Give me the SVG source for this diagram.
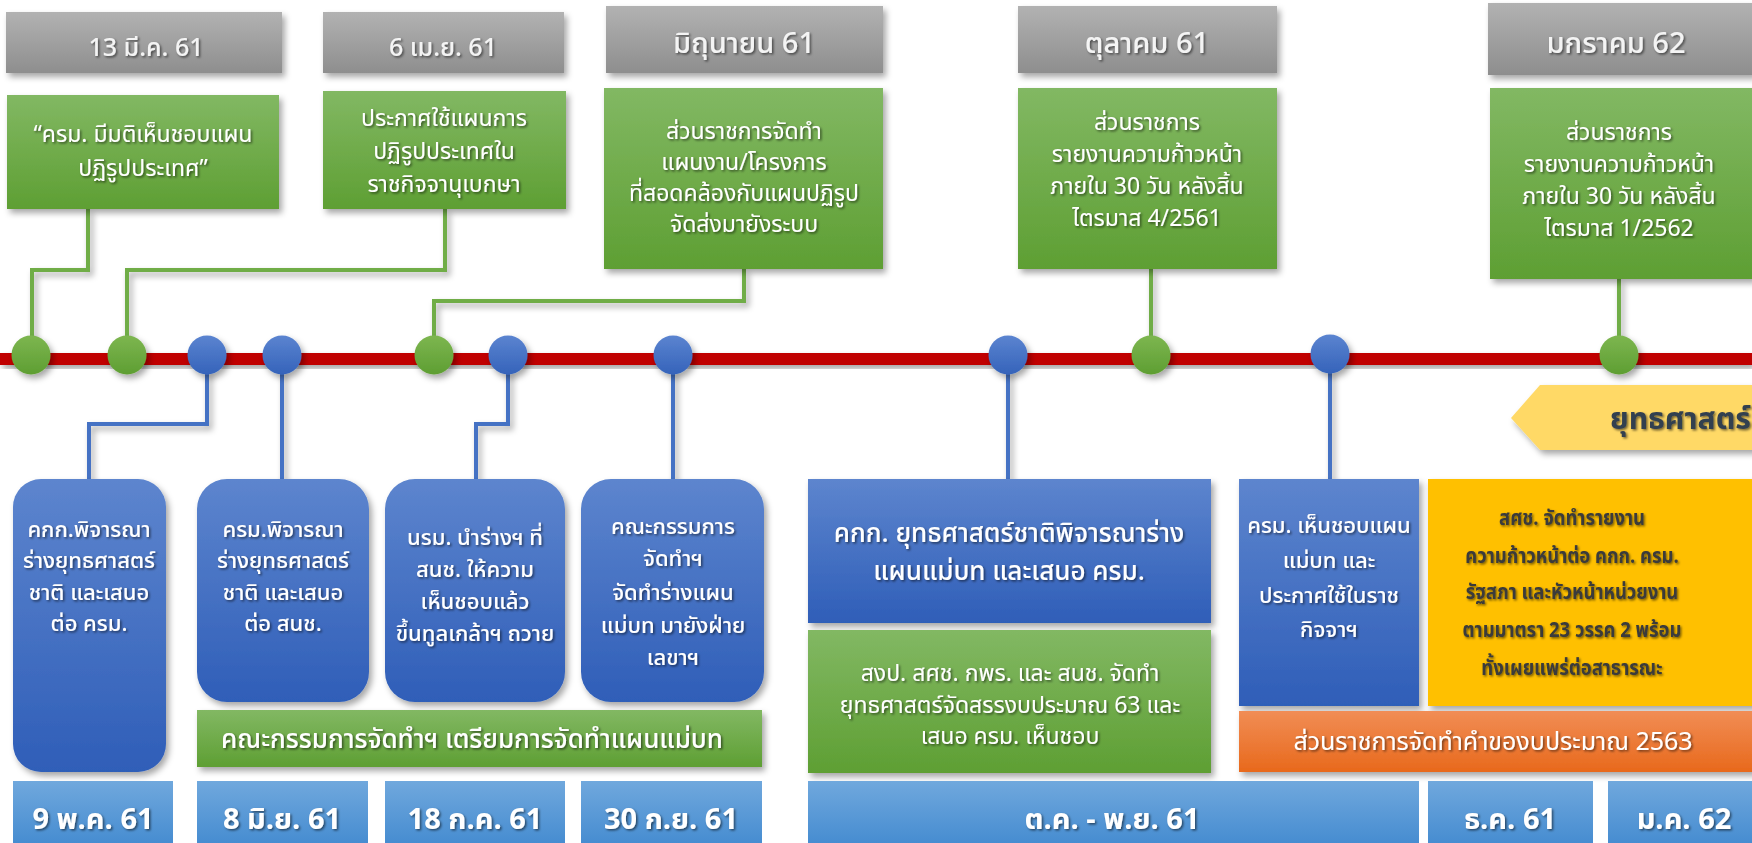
<svg xmlns="http://www.w3.org/2000/svg" width="1752" height="843" viewBox="0 0 1752 843">
<defs>
<linearGradient id="gGray" x1="0" y1="0" x2="0" y2="1"><stop offset="0" stop-color="#B2B2B2"/><stop offset="1" stop-color="#8E8E8E"/></linearGradient>
<linearGradient id="gGreen" x1="0" y1="0" x2="0" y2="1"><stop offset="0" stop-color="#82B863"/><stop offset="1" stop-color="#5E9F33"/></linearGradient>
<linearGradient id="gBlue" x1="0" y1="0" x2="0" y2="1"><stop offset="0" stop-color="#5D85CE"/><stop offset="1" stop-color="#2F5EB8"/></linearGradient>
<linearGradient id="gLBlue" x1="0" y1="0" x2="0" y2="1"><stop offset="0" stop-color="#70A8DD"/><stop offset="1" stop-color="#4189CF"/></linearGradient>
<linearGradient id="gOrange" x1="0" y1="0" x2="0" y2="1"><stop offset="0" stop-color="#F18D55"/><stop offset="1" stop-color="#E8691C"/></linearGradient>
<linearGradient id="gDotG" x1="0" y1="0" x2="0" y2="1"><stop offset="0" stop-color="#7DB650"/><stop offset="1" stop-color="#5E9E32"/></linearGradient>
<linearGradient id="gDotB" x1="0" y1="0" x2="0" y2="1"><stop offset="0" stop-color="#5B84D0"/><stop offset="1" stop-color="#3563BA"/></linearGradient>
<filter id="sh" x="-10%" y="-10%" width="130%" height="140%"><feDropShadow dx="3" dy="4" stdDeviation="3" flood-color="#000" flood-opacity="0.35"/></filter>
<filter id="ts" x="-5%" y="-20%" width="110%" height="150%"><feDropShadow dx="1.5" dy="1.5" stdDeviation="1" flood-color="#000" flood-opacity="0.55"/></filter>
<style>
text{font-family:'Noto Sans Thai','Noto Sans Thai UI','Noto Sans','DejaVu Sans',sans-serif;text-anchor:middle;fill:#FFFFFF;filter:url(#ts)}
.hd{font-size:25px;fill:#F4F4F4;font-weight:500}
.hl{font-size:29px;fill:#F4F4F4;font-weight:500}
.gt{font-size:23px}
.gb{font-size:23px}
.bt{font-size:22px;font-weight:500}
.big{font-size:26px;font-weight:500}
.dt{font-size:29px;font-weight:bold}
.yt{font-size:22px;fill:#3A3A3A;font-weight:bold}
.ot{font-size:25px}
.ar{font-size:30px;fill:#333F50;text-anchor:start;font-weight:bold}
.gl{stroke:#70AD47;stroke-width:4;fill:none}
.bl{stroke:#4472C4;stroke-width:4;fill:none}
</style>
</defs>

<g id="connectors" filter="url(#sh)">
<polyline class="gl" points="88,209 88,270 32,270 32,340"/>
<polyline class="gl" points="445,209 445,270 127,270 127,340"/>
<polyline class="gl" points="744,269 744,301 434,301 434,340"/>
<polyline class="gl" points="1151,269 1151,340"/>
<polyline class="gl" points="1619,279 1619,340"/>
<polyline class="bl" points="207,370 207,424 89,424 89,480"/>
<polyline class="bl" points="282,370 282,480"/>
<polyline class="bl" points="508,370 508,424 476,424 476,480"/>
<polyline class="bl" points="673,370 673,480"/>
<polyline class="bl" points="1008,370 1008,480"/>
<polyline class="bl" points="1330,370 1330,480"/>
</g>

<g id="timeline">
<rect x="0" y="353" width="1752" height="12" fill="#C00000" filter="url(#sh)"/>
</g>

<g id="dots" filter="url(#sh)">
<circle cx="31" cy="355" r="19.5" fill="url(#gDotG)"/>
<circle cx="127" cy="355" r="19.5" fill="url(#gDotG)"/>
<circle cx="207" cy="355" r="19.5" fill="url(#gDotB)"/>
<circle cx="282" cy="355" r="19.5" fill="url(#gDotB)"/>
<circle cx="434" cy="355" r="19.5" fill="url(#gDotG)"/>
<circle cx="508" cy="355" r="19.5" fill="url(#gDotB)"/>
<circle cx="673" cy="355" r="19.5" fill="url(#gDotB)"/>
<circle cx="1008" cy="355" r="19.5" fill="url(#gDotB)"/>
<circle cx="1151" cy="355" r="19.5" fill="url(#gDotG)"/>
<circle cx="1330" cy="354" r="19.5" fill="url(#gDotB)"/>
<circle cx="1619" cy="355" r="19.5" fill="url(#gDotG)"/>
</g>

<g id="h1"><rect x="6" y="12" width="276" height="61" fill="url(#gGray)" filter="url(#sh)"/><text class="hd" x="146" y="56">13 มี.ค. 61</text></g>
<g id="h2"><rect x="323" y="12" width="241" height="61" fill="url(#gGray)" filter="url(#sh)"/><text class="hd" x="443" y="56">6 เม.ย. 61</text></g>
<g id="h3"><rect x="606" y="6" width="277" height="67" fill="url(#gGray)" filter="url(#sh)"/><text class="hl" x="744" y="53">มิถุนายน 61</text></g>
<g id="h4"><rect x="1018" y="6" width="259" height="67" fill="url(#gGray)" filter="url(#sh)"/><text class="hl" x="1147" y="53">ตุลาคม 61</text></g>
<g id="h5"><rect x="1488" y="3" width="266" height="72" fill="url(#gGray)" filter="url(#sh)"/><text class="hl" x="1616" y="53">มกราคม 62</text></g>

<g id="g1"><rect x="7" y="95" width="272" height="114" fill="url(#gGreen)" filter="url(#sh)"/>
<text class="gt" x="143" y="142">“ครม. มีมติเห็นชอบแผน</text><text class="gt" x="143" y="176">ปฏิรูปประเทศ”</text></g>
<g id="g2"><rect x="323" y="91" width="243" height="118" fill="url(#gGreen)" filter="url(#sh)"/>
<text class="gt" x="444" y="126">ประกาศใช้แผนการ</text><text class="gt" x="444" y="159">ปฏิรูปประเทศใน</text><text class="gt" x="444" y="192">ราชกิจจานุเบกษา</text></g>
<g id="g3"><rect x="604" y="88" width="279" height="181" fill="url(#gGreen)" filter="url(#sh)"/>
<text class="gt" x="744" y="139">ส่วนราชการจัดทำ</text><text class="gt" x="744" y="170">แผนงาน/โครงการ</text><text class="gt" x="744" y="201">ที่สอดคล้องกับแผนปฏิรูป</text><text class="gt" x="744" y="232">จัดส่งมายังระบบ</text></g>
<g id="g4"><rect x="1018" y="88" width="259" height="181" fill="url(#gGreen)" filter="url(#sh)"/>
<text class="gt" x="1147" y="130">ส่วนราชการ</text><text class="gt" x="1147" y="162">รายงานความก้าวหน้า</text><text class="gt" x="1147" y="194">ภายใน 30 วัน หลังสิ้น</text><text class="gt" x="1147" y="226">ไตรมาส 4/2561</text></g>
<g id="g5"><rect x="1490" y="88" width="264" height="191" fill="url(#gGreen)" filter="url(#sh)"/>
<text class="gt" x="1619" y="140">ส่วนราชการ</text><text class="gt" x="1619" y="172">รายงานความก้าวหน้า</text><text class="gt" x="1619" y="204">ภายใน 30 วัน หลังสิ้น</text><text class="gt" x="1619" y="236">ไตรมาส 1/2562</text></g>

<g id="arrow"><polygon points="1511,418 1540,385 1760,385 1760,450 1540,450" fill="#FFD966" filter="url(#sh)"/><text class="ar" x="1610" y="429">ยุทธศาสตร์</text></g>

<g id="b1"><rect x="13" y="479" width="153" height="293" rx="28" fill="url(#gBlue)" filter="url(#sh)"/>
<text class="bt" x="89" y="537">คกก.พิจารณา</text><text class="bt" x="89" y="568">ร่างยุทธศาสตร์</text><text class="bt" x="89" y="600">ชาติ และเสนอ</text><text class="bt" x="89" y="631">ต่อ ครม.</text></g>
<g id="b2"><rect x="197" y="479" width="172" height="223" rx="30" fill="url(#gBlue)" filter="url(#sh)"/>
<text class="bt" x="283" y="537">ครม.พิจารณา</text><text class="bt" x="283" y="568">ร่างยุทธศาสตร์</text><text class="bt" x="283" y="600">ชาติ และเสนอ</text><text class="bt" x="283" y="631">ต่อ สนช.</text></g>
<g id="b3"><rect x="385" y="479" width="180" height="223" rx="30" fill="url(#gBlue)" filter="url(#sh)"/>
<text class="bt" x="475" y="545">นรม. นำร่างฯ ที่</text><text class="bt" x="475" y="577">สนช. ให้ความ</text><text class="bt" x="475" y="609">เห็นชอบแล้ว</text><text class="bt" x="475" y="641">ขึ้นทูลเกล้าฯ ถวาย</text></g>
<g id="b4"><rect x="581" y="479" width="183" height="223" rx="30" fill="url(#gBlue)" filter="url(#sh)"/>
<text class="bt" x="673" y="534">คณะกรรมการ</text><text class="bt" x="673" y="566">จัดทำฯ</text><text class="bt" x="673" y="600">จัดทำร่างแผน</text><text class="bt" x="673" y="633">แม่บท มายังฝ่าย</text><text class="bt" x="673" y="665">เลขาฯ</text></g>
<g id="b5"><rect x="808" y="479" width="403" height="144" fill="url(#gBlue)" filter="url(#sh)"/>
<text class="big" x="1009" y="542">คกก. ยุทธศาสตร์ชาติพิจารณาร่าง</text><text class="big" x="1009" y="580">แผนแม่บท และเสนอ ครม.</text></g>
<g id="b6"><rect x="1239" y="479" width="180" height="227" fill="url(#gBlue)" filter="url(#sh)"/>
<text class="bt" x="1329" y="533">ครม. เห็นชอบแผน</text><text class="bt" x="1329" y="568">แม่บท และ</text><text class="bt" x="1329" y="603">ประกาศใช้ในราช</text><text class="bt" x="1329" y="637">กิจจาฯ</text></g>
<g id="y1"><rect x="1428" y="479" width="330" height="227" fill="#FFC000" filter="url(#sh)"/>
<g transform="translate(1572,0) scale(0.84,1)">
<text class="yt" x="0" y="525">สศช. จัดทำรายงาน</text><text class="yt" x="0" y="563">ความก้าวหน้าต่อ คกก. ครม.</text><text class="yt" x="0" y="599">รัฐสภา และหัวหน้าหน่วยงาน</text><text class="yt" x="0" y="637">ตามมาตรา 23 วรรค 2 พร้อม</text><text class="yt" x="0" y="675">ทั้งเผยแพร่ต่อสาธารณะ</text>
</g></g>

<g id="gb1"><rect x="197" y="710" width="565" height="57" fill="url(#gGreen)" filter="url(#sh)"/><text class="big" x="472" y="748">คณะกรรมการจัดทำฯ เตรียมการจัดทำแผนแม่บท</text></g>
<g id="gb2"><rect x="808" y="630" width="403" height="143" fill="url(#gGreen)" filter="url(#sh)"/>
<text class="gb" x="1010" y="681">สงป. สศช.  กพร. และ สนช. จัดทำ</text><text class="gb" x="1010" y="713">ยุทธศาสตร์จัดสรรงบประมาณ 63 และ</text><text class="gb" x="1010" y="744">เสนอ ครม. เห็นชอบ</text></g>
<g id="or1"><rect x="1239" y="711" width="520" height="61" fill="url(#gOrange)" filter="url(#sh)"/><text class="ot" x="1493" y="750">ส่วนราชการจัดทำคำของบประมาณ 2563</text></g>

<g id="d1"><rect x="13" y="781" width="160" height="70" fill="url(#gLBlue)"/><text class="dt" x="93" y="829">9 พ.ค. 61</text></g>
<g id="d2"><rect x="197" y="781" width="171" height="70" fill="url(#gLBlue)"/><text class="dt" x="282" y="829">8 มิ.ย. 61</text></g>
<g id="d3"><rect x="385" y="781" width="180" height="70" fill="url(#gLBlue)"/><text class="dt" x="475" y="829">18 ก.ค. 61</text></g>
<g id="d4"><rect x="581" y="781" width="181" height="70" fill="url(#gLBlue)"/><text class="dt" x="671" y="829">30 ก.ย. 61</text></g>
<g id="d5"><rect x="808" y="781" width="611" height="70" fill="url(#gLBlue)"/><text class="dt" x="1112" y="829">ต.ค. - พ.ย. 61</text></g>
<g id="d6"><rect x="1428" y="781" width="165" height="70" fill="url(#gLBlue)"/><text class="dt" x="1510" y="829">ธ.ค. 61</text></g>
<g id="d7"><rect x="1608" y="781" width="150" height="70" fill="url(#gLBlue)"/><text class="dt" x="1684" y="829">ม.ค. 62</text></g>
</svg>
